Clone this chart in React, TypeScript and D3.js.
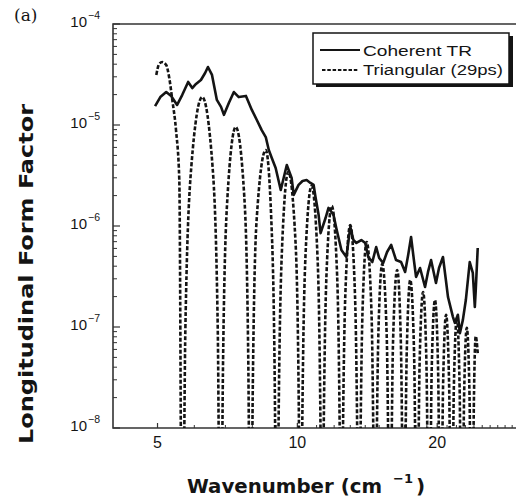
import React from 'react';
import * as d3 from 'd3';

// Coherent TR (measured) : wavenumber (cm^-1) and form factor
const cohW = [4.94, 5.07, 5.22, 5.35, 5.51, 5.65, 5.82, 5.94, 6.05, 6.20, 6.33, 6.42, 6.55, 6.71, 6.85, 6.95, 7.12, 7.30, 7.48, 7.75,
  7.98, 8.18, 8.38, 8.55, 8.68, 8.81, 8.98, 9.21, 9.49, 9.72, 9.82, 10.06, 10.26, 10.47, 10.67, 10.84, 10.94, 11.11, 11.22, 11.50,
  11.67, 11.96, 12.13, 12.44, 12.75, 13.00, 13.20, 13.40, 13.73, 14.00, 14.21, 14.50, 14.78, 15.00, 15.30, 15.60, 15.92, 16.31, 16.72, 17.06,
  17.32, 17.57, 17.84, 18.01, 18.37, 18.83, 19.11, 19.40, 19.88, 20.18, 20.58, 20.88, 21.10, 21.62, 21.83, 22.16, 22.38, 22.71, 23.05, 23.50,
  23.86, 24.10, 24.21, 24.45];
const cohV = [1.54e-5, 1.89e-5, 2.12e-5, 1.94e-5, 1.58e-5, 1.98e-5, 2.67e-5, 2.32e-5, 2.55e-5, 2.79e-5, 3.27e-5, 3.75e-5, 3.13e-5, 1.77e-5, 1.51e-5, 1.26e-5, 1.65e-5, 2.12e-5, 1.89e-5, 1.94e-5,
  1.41e-5, 1.12e-5, 8.9e-6, 7.6e-6, 5.65e-6, 4.71e-6, 3.75e-6, 2.27e-6, 4.02e-6, 2.99e-6, 2.03e-6, 2.55e-6, 2.79e-6, 2.85e-6, 2.67e-6, 2.55e-6, 1.94e-6, 1.29e-6, 8.5e-7, 1.2e-6,
  1.51e-6, 1.29e-6, 9.5e-7, 5.78e-7, 4.93e-7, 9.8e-7, 7.26e-7, 6.79e-7, 7.26e-7, 6.79e-7, 4.93e-7, 4.4e-7, 6.19e-7, 4.82e-7, 4.3e-7, 5.53e-7, 6.49e-7, 4.6e-7, 4.4e-7, 3.51e-7,
  5.16e-7, 7.78e-7, 4.4e-7, 3.13e-7, 3.84e-7, 2.49e-7, 3.51e-7, 4.6e-7, 2.73e-7, 3.84e-7, 4.93e-7, 2.92e-7, 1.98e-7, 1.26e-7, 1.1e-7, 1.32e-7, 8.7e-8, 1.17e-7, 1.85e-7, 4.4e-7,
  3.43e-7, 1.58e-7, 2.32e-7, 6.05e-7];

// Triangular (29ps) model : wavenumber (cm^-1) and form factor
const triW = [4.97, 5.04, 5.12, 5.22, 5.30, 5.38, 5.48, 5.57, 5.65,
  5.74, 5.91, 6.24, 6.57, 6.74, 6.83,
  6.92, 7.07, 7.37, 7.69, 7.84, 7.93,
  8.02, 8.17, 8.55, 8.79, 8.94, 9.03,
  9.12, 9.28, 9.56, 9.91, 10.07, 10.16,
  10.25, 10.41, 10.73, 11.05, 11.21, 11.30,
  11.39, 11.55, 11.86, 12.18, 12.34, 12.43,
  12.52, 12.68, 13.00, 13.31, 13.47, 13.56,
  13.65, 13.81, 14.10, 14.44, 14.60, 14.69,
  14.78, 14.94, 15.23, 15.57, 15.73, 15.82,
  15.91, 16.07, 16.40, 16.70, 16.86, 16.95,
  17.04, 17.20, 17.50, 17.83, 17.99, 18.08,
  18.17, 18.33, 18.65, 18.96, 19.12, 19.21,
  19.30, 19.46, 19.78, 20.09, 20.25, 20.34,
  20.43, 20.59, 20.90, 21.22, 21.38, 21.47,
  21.56, 21.72, 22.05, 22.35, 22.51, 22.60,
  22.69, 22.85, 23.16, 23.48, 23.64, 23.73,
  23.82, 23.98, 24.21, 24.45];
const triV = [3.13e-5, 4.02e-5, 4.2e-5, 3.93e-5, 2.92e-5, 1.77e-5, 8.9e-6, 2.85e-6, 1e-10,
  9.5e-8, 3.8e-6, 1.89e-5, 3.8e-6, 9.5e-8, 1e-10,
  4.8e-8, 1.9e-6, 9.55e-6, 1.9e-6, 4.8e-8, 1e-10,
  2.8e-8, 1.13e-6, 5.65e-6, 1.13e-6, 2.8e-8, 1e-10,
  1.7e-8, 6.9e-7, 3.43e-6, 6.9e-7, 1.7e-8, 1e-10,
  1.25e-8, 5.0e-7, 2.49e-6, 5.0e-7, 1.25e-8, 1e-10,
  7.9e-9, 3.2e-7, 1.58e-6, 3.2e-7, 7.9e-9, 1e-10,
  5.1e-9, 2.0e-7, 1.02e-6, 2.0e-7, 5.1e-9, 1e-10,
  3.5e-9, 1.4e-7, 6.95e-7, 1.4e-7, 3.5e-9, 1e-10,
  2.1e-9, 8.4e-8, 4.2e-7, 8.4e-8, 2.1e-9, 1e-10,
  1.8e-9, 7.3e-8, 3.67e-7, 7.3e-8, 1.8e-9, 1e-10,
  1.5e-9, 5.8e-8, 2.92e-7, 5.8e-8, 1.5e-9, 1e-10,
  1.1e-9, 4.4e-8, 2.22e-7, 4.4e-8, 1.1e-9, 1e-10,
  9e-10, 3.7e-8, 1.85e-7, 3.7e-8, 9e-10, 1e-10,
  6.6e-10, 2.6e-8, 1.32e-7, 2.6e-8, 6.6e-10, 1e-10,
  6.2e-10, 2.5e-8, 1.23e-7, 2.5e-8, 6.2e-10, 1e-10,
  4.9e-10, 2.0e-8, 9.8e-8, 2.0e-8, 4.9e-10, 1e-10,
  4e-10, 1.6e-8, 8.1e-8, 5.5e-8];

const seriesNames = ['Coherent TR', 'Triangular (29ps)'];
const xTickValues = [5, 10, 20];
const xTickLabels = ['5', '10', '20'];
const xMinorTicks = [6, 7, 8, 9, 11, 12, 13, 14, 15, 16, 17, 18, 19, 21, 22, 23, 24, 25, 26, 27, 28, 29];
const yTickValues = [1e-4, 1e-5, 1e-6, 1e-7, 1e-8];
const yTickExps = ['\u22124', '\u22125', '\u22126', '\u22127', '\u22128'];
const panelLabel = '(a)';
const xTitle = 'Wavenumber (cm';
const xTitleExp = '\u22121';
const yTitle = 'Longitudinal Form Factor';

export default function App() {
  const W = 516, H = 499;
  const left = 113, right = 519, top = 24, bottom = 428;
  const x = d3.scaleLog().domain([4, 30]).range([112.5, right]);
  const y = d3.scaleLog().domain([1e-8, 1e-4]).range([bottom, top]);
  const ink = '#141414';
  const sans = "'Liberation Sans', Arial, sans-serif";
  const bold = "'DejaVu Sans', 'Liberation Sans', sans-serif";

  const coh = cohW.map((w, i) => [w, cohV[i]] as [number, number]);
  const tri = triW.map((w, i) => [w, triV[i]] as [number, number]);
  const lineLin = d3.line<[number, number]>().x(d => x(d[0])).y(d => y(d[1])).curve(d3.curveLinear);
  const lineSm = d3.line<[number, number]>().x(d => x(d[0])).y(d => y(d[1])).curve(d3.curveMonotoneX);

  const yMinor: number[] = [];
  for (let e = -8; e < -4; e++) for (let m = 2; m <= 9; m++) yMinor.push(m * Math.pow(10, e));

  return (
    <svg width={W} height={H} style={{ position: 'absolute', left: 0, top: 0, background: '#fff' }}>
      <defs>
        <clipPath id="plotclip"><rect x={left} y={top} width={right - left} height={bottom - top} /></clipPath>
      </defs>
      <rect x={0} y={0} width={W} height={H} fill="#fff" />
      <text x={14} y={21} fontFamily="'DejaVu Serif', serif" fontSize={17} fill={ink}>{panelLabel}</text>

      {/* frame */}
      <path d={`M${right + 4},${top}H${left}V${bottom}H${right + 4}`} fill="none" stroke="#333" strokeWidth={1.6} />

      {/* y ticks */}
      {yTickValues.map((v, i) => (
        <g key={'yt' + i}>
          <line x1={left} x2={left + 7} y1={y(v)} y2={y(v)} stroke="#333" strokeWidth={1.2} />
          <text x={87} y={y(v) + 3} textAnchor="end" fontFamily={sans} fontSize={15} fill={ink}>10</text>
          <text x={88} y={y(v) - 5} fontFamily={sans} fontSize={10.5} fill={ink}>{yTickExps[i]}</text>
        </g>
      ))}
      {yMinor.map((v, i) => (
        <line key={'ym' + i} x1={left} x2={left + 4} y1={y(v)} y2={y(v)} stroke="#333" strokeWidth={1} />
      ))}

      {/* x ticks */}
      {xTickValues.map((v, i) => (
        <g key={'xt' + i}>
          <line x1={x(v)} x2={x(v)} y1={bottom} y2={bottom - 5} stroke="#333" strokeWidth={1.2} />
          <text x={x(v)} y={448} textAnchor="middle" fontFamily={sans} fontSize={16} fill={ink}>{xTickLabels[i]}</text>
        </g>
      ))}
      {xMinorTicks.map((v, i) => (
        <line key={'xm' + i} x1={x(v)} x2={x(v)} y1={bottom} y2={bottom - 3} stroke="#333" strokeWidth={1} />
      ))}

      {/* data */}
      <g clipPath="url(#plotclip)">
        <path d={lineSm(tri) || ''} fill="none" stroke={ink} strokeWidth={2.6} strokeDasharray="4,2" />
        <path d={lineLin(coh) || ''} fill="none" stroke={ink} strokeWidth={2.6} strokeLinejoin="round" />
      </g>

      {/* legend */}
      <rect x={316} y={36} width={197} height={51} fill={ink} />
      <rect x={313} y={33} width={196} height={51} fill="#fff" stroke={ink} strokeWidth={1.5} />
      <line x1={320} x2={360} y1={50} y2={50} stroke={ink} strokeWidth={2} />
      <line x1={322} x2={359} y1={70} y2={70} stroke={ink} strokeWidth={2} strokeDasharray="3.5,1.8" />
      <text x={363} y={56} fontFamily={sans} fontSize={15.5} fill={ink} textLength={109} lengthAdjust="spacingAndGlyphs">{seriesNames[0]}</text>
      <text x={363} y={75} fontFamily={sans} fontSize={15.5} fill={ink} textLength={140} lengthAdjust="spacingAndGlyphs">{seriesNames[1]}</text>

      {/* axis titles */}
      <text x={187} y={493} fontFamily={bold} fontWeight="bold" fontSize={20} fill={ink} textLength={195} lengthAdjust="spacingAndGlyphs">{xTitle}</text>
      <text x={393} y={483} fontFamily={bold} fontWeight="bold" fontSize={13} fill={ink}>{xTitleExp}</text>
      <text x={416} y={493} fontFamily={bold} fontWeight="bold" fontSize={20} fill={ink}>)</text>
      <text transform={`translate(33,${274}) rotate(-90)`} textAnchor="middle" fontFamily={bold} fontWeight="bold" fontSize={20} fill={ink} textLength={340} lengthAdjust="spacingAndGlyphs">{yTitle}</text>
    </svg>
  );
}
